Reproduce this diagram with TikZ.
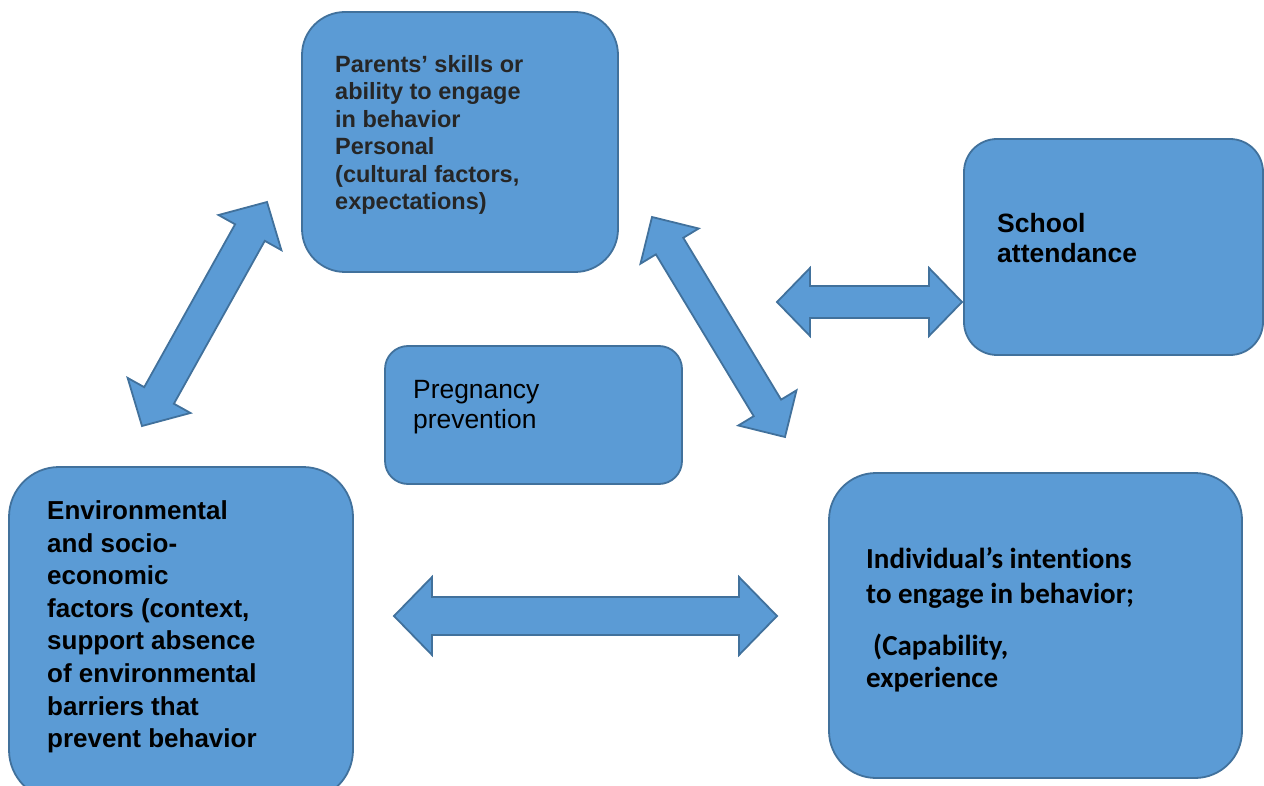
\documentclass[tikz,border=0pt]{standalone}
\usepackage{fontspec}
\setmainfont{Liberation Sans}
\newfontfamily\calfont[Ligatures=NoCommon]{Carlito}
\usetikzlibrary{calc}
\definecolor{boxfill}{HTML}{5B9BD5}
\definecolor{boxline}{HTML}{41719C}
\definecolor{darktext}{HTML}{262626}
\tikzset{
  boxsty/.style={draw=boxline, fill=boxfill, line width=1.8pt, inner sep=0pt},
  arrowsty/.style={draw=boxline, fill=boxfill, line width=1.8pt, line join=miter},
  txtsty/.style={anchor=north west, inner sep=0pt, align=left}
}
% #1 start, #2 end, #3 shaft half width, #4 head half width, #5 head length
\newcommand\dblblockarrow[5]{%
  \coordinate (ba-ha) at ($(#1)!#5!(#2)$);
  \coordinate (ba-hb) at ($(#2)!#5!(#1)$);
  \draw[arrowsty] (#1) -- ($(ba-ha)!#4!90:(#2)$) -- ($(ba-ha)!#3!90:(#2)$)
    -- ($(ba-hb)!#3!-90:(#1)$) -- ($(ba-hb)!#4!-90:(#1)$) -- (#2)
    -- ($(ba-hb)!#4!90:(#1)$) -- ($(ba-hb)!#3!90:(#1)$)
    -- ($(ba-ha)!#3!-90:(#2)$) -- ($(ba-ha)!#4!-90:(#2)$) -- cycle;
}
\begin{document}
\begin{tikzpicture}[x=1pt, y=-1pt]
\useasboundingbox (0,0) rectangle (1264,786);
\clip (0,0) rectangle (1264,786);

% boxes
\node[boxsty, minimum width=316pt, minimum height=260pt, rounded corners=43pt] (parents) at (460,142) {};
\node[boxsty, minimum width=299pt, minimum height=216pt, rounded corners=33pt] (school) at (1113.5,247) {};
\node[boxsty, minimum width=297pt, minimum height=138pt, rounded corners=23pt] (preg) at (533.5,415) {};
\node[boxsty, minimum width=344pt, minimum height=333pt, rounded corners=50pt] (env) at (181,633.5) {};
\node[boxsty, minimum width=413pt, minimum height=305pt, rounded corners=47pt] (indiv) at (1035.5,625.5) {};

% texts
\node[txtsty, text=darktext, font=\bfseries\fontsize{23.5}{27.4}\selectfont] (parents-txt) at (335,55.2)
  {Parents’ skills or\\ability to engage\\in behavior\\Personal\\(cultural factors,\\expectations)};
\node[txtsty, font=\bfseries\fontsize{26.5}{30}\selectfont] (school-txt) at (997,213)
  {School\\attendance};
\node[txtsty, font=\fontsize{26.4}{30}\selectfont] (preg-txt) at (413,380)
  {Pregnancy\\prevention};
\node[txtsty, font=\bfseries\fontsize{26}{32.6}\selectfont] (env-txt) at (47,500.4)
  {Environmental\\and socio-\\economic\\factors (context,\\support absence\\of environmental\\barriers that\\prevent behavior};
\node[txtsty, font=\calfont\bfseries\fontsize{29}{35}\selectfont] (indiv-txt) at (866,546.7)
  {Individual’s intent\kern0pt ions\\to engage in behavior;\\[17pt]\hspace*{7pt}(Capability,\\[-3pt]experience};

% arrow end points
\coordinate (l1) at (142,426);
\coordinate (l2) at (267,202);
\coordinate (r1) at (652,217);
\coordinate (r2) at (785,437);
\coordinate (s1) at (777,302);
\coordinate (s2) at (962,302);
\coordinate (h1) at (394,616);
\coordinate (h2) at (777,616);

\dblblockarrow{l1}{l2}{17pt}{36pt}{35pt}
\dblblockarrow{r1}{r2}{16pt}{34pt}{34pt}
\dblblockarrow{s1}{s2}{16pt}{34pt}{33pt}
\dblblockarrow{h1}{h2}{19pt}{39pt}{38pt}
\end{tikzpicture}
\end{document}
